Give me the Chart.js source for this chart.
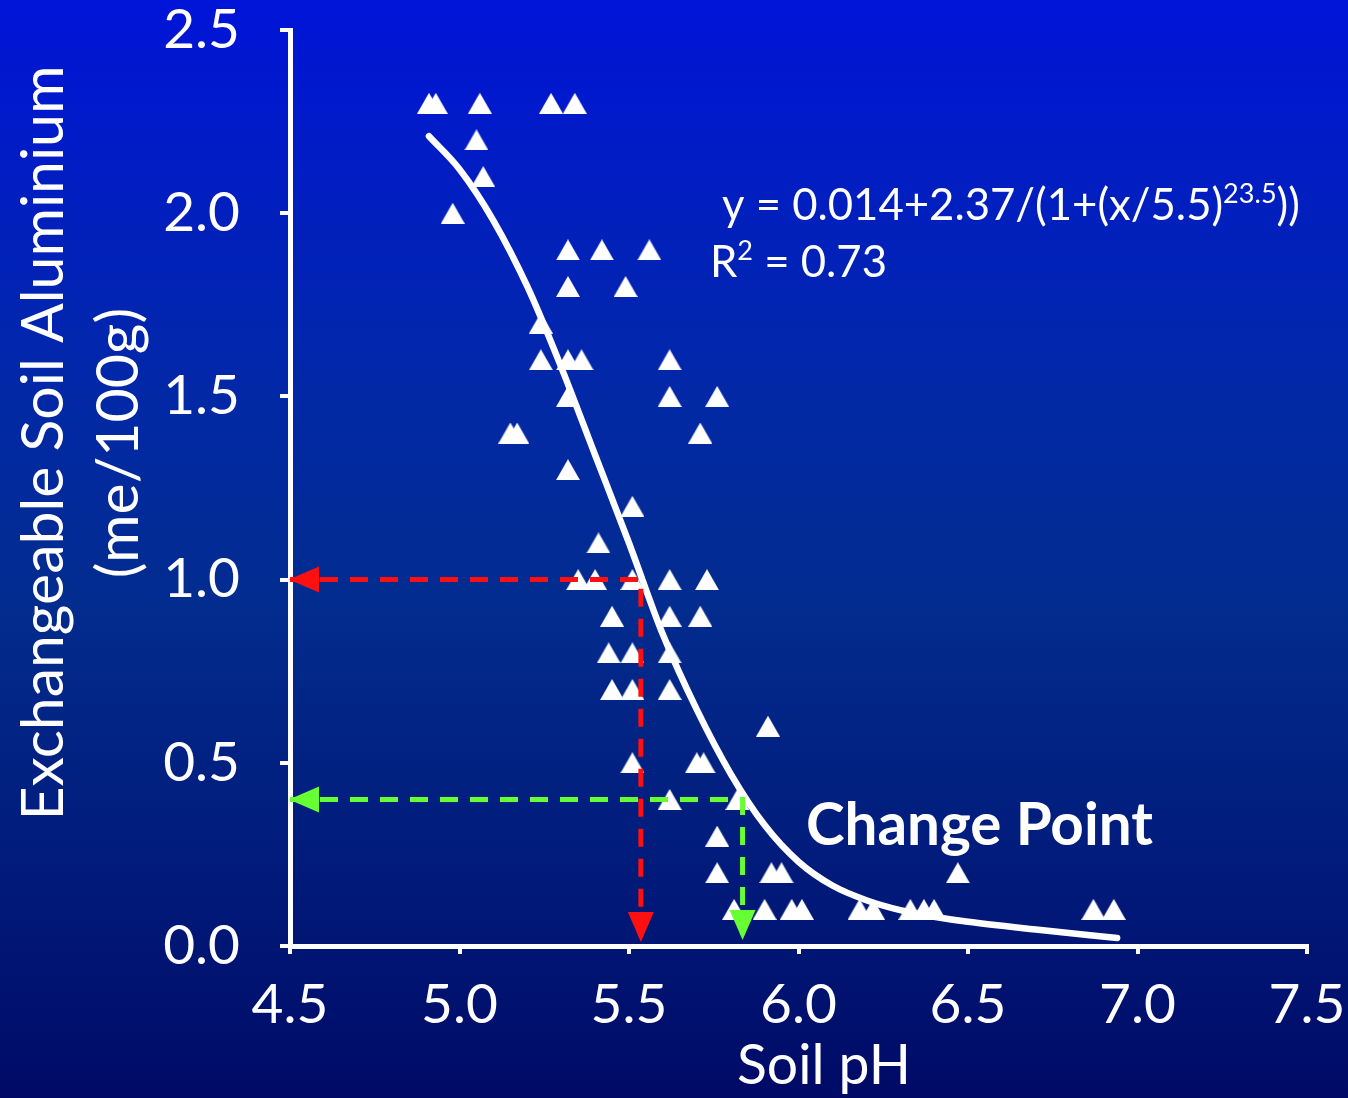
<!DOCTYPE html>
<html><head><meta charset="utf-8">
<script src="https://cdn.jsdelivr.net/npm/chart.js@4.4.1/dist/chart.umd.min.js"></script>
<style>html,body{margin:0;padding:0;background:#000a68;overflow:hidden}#wrap{width:1348px;height:1098px;position:relative}canvas{display:block}</style>
</head><body><div id="wrap"><canvas id="c" width="1348" height="1098"></canvas></div>
<script>
// ---- data ----
const soilPH = [
  4.91,4.93,5.06,5.27,5.34,
  5.05,
  5.07,
  4.98,
  5.32,5.42,5.56,
  5.32,5.49,
  5.24,
  5.24,5.32,5.36,5.62,
  5.32,5.62,5.76,
  5.15,5.17,5.71,
  5.32,
  5.51,
  5.41,
  5.35,5.40,5.51,5.62,5.73,
  5.45,5.62,5.71,
  5.44,5.51,5.62,
  5.45,5.51,5.62,
  5.91,
  5.51,5.70,5.72,
  5.62,5.82,
  5.76,
  5.76,5.92,5.95,6.47,
  5.81,5.90,5.98,6.01,6.18,6.22,6.33,6.37,6.40,6.87,6.93
];
const exchAl = [
  2.3,2.3,2.3,2.3,2.3,
  2.2,
  2.1,
  2.0,
  1.9,1.9,1.9,
  1.8,1.8,
  1.7,
  1.6,1.6,1.6,1.6,
  1.5,1.5,1.5,
  1.4,1.4,1.4,
  1.3,
  1.2,
  1.1,
  1.0,1.0,1.0,1.0,1.0,
  0.9,0.9,0.9,
  0.8,0.8,0.8,
  0.7,0.7,0.7,
  0.6,
  0.5,0.5,0.5,
  0.4,0.4,
  0.3,
  0.2,0.2,0.2,0.2,
  0.1,0.1,0.1,0.1,0.1,0.1,0.1,0.1,0.1,0.1,0.1
];
// fitted curve as drawn
const curvePH = [4.91,5.00,5.10,5.20,5.30,5.40,5.50,5.60,5.70,5.80,5.90,6.00,6.10,6.20,6.30,6.40,6.50,6.70,6.94];
const curveAl = [2.21,2.12,1.98,1.80,1.58,1.34,1.10,0.85,0.645,0.47,0.33,0.23,0.165,0.125,0.098,0.080,0.066,0.045,0.022];
// axis ticks
const xTickValues = [4.5,5.0,5.5,6.0,6.5,7.0,7.5];
const yTickValues = [0.0,0.5,1.0,1.5,2.0,2.5];
// change point guides
const redGuidePH = 5.535, redGuideAl = 1.0;
const greenGuidePH = 5.835, greenGuideAl = 0.4;
// texts
const xTitle = 'Soil pH';
const yTitle = ['Exchangeable Soil Aluminium', '(me/100g)'];
const eqMain = 'y = 0.014+2.37/(1+(x/5.5)';
const eqSup = '23.5';
const eqEnd = '))';
const r2Main = 'R';
const r2Sup = '2';
const r2End = ' = 0.73';
const changeLabel = 'Change Point';

// ---- helpers ----
const FONT = 'Lato';
const mc = document.createElement('canvas').getContext('2d');
function w(text, size, weight){ mc.font = (weight||'normal') + ' ' + size + 'px ' + FONT; return mc.measureText(text).width; }
const yTitleSize = 56 * 755 / w(yTitle[0], 56);
const xTitleSize = 56 * 174 / w(xTitle, 56);
const eqSize = (function(){ const s=44; const t = w(eqMain,s)+w(eqSup,s*0.62)+w(eqEnd,s); return s*578/t; })();
const cpSize = 58 * 347 / w(changeLabel, 58, 'bold');

// triangle marker centred on its bounding box (like the original's markers)
const tri = document.createElement('canvas');
tri.width = 24; tri.height = 21;
(function(){ const t = tri.getContext('2d'); t.fillStyle = '#ffffff'; t.beginPath(); t.moveTo(0,21); t.lineTo(12,0); t.lineTo(24,21); t.closePath(); t.fill(); })();

const points = soilPH.map((x,i)=>({x:x, y:exchAl[i]}));
const curve = curvePH.map((x,i)=>({x:x, y:curveAl[i]}));
const redLine = [{x:xTickValues[0], y:redGuideAl},{x:redGuidePH,y:redGuideAl},{x:redGuidePH,y:yTickValues[0]}];
const greenLine = [{x:xTickValues[0], y:greenGuideAl},{x:greenGuidePH,y:greenGuideAl},{x:greenGuidePH,y:yTickValues[0]}];

const bgPlugin = {
  id:'bg',
  beforeDraw(chart){
    const c = chart.ctx, H = chart.height;
    const g = c.createLinearGradient(0,0,0,H);
    g.addColorStop(0,'#0014d8');
    g.addColorStop(0.35,'#0228a8');
    g.addColorStop(0.55,'#022c8e');
    g.addColorStop(0.8,'#011a7a');
    g.addColorStop(1,'#000a66');
    c.save(); c.fillStyle = g; c.fillRect(0,0,chart.width,H); c.restore();
  }
};

function arrow(c, tx, ty, dir, color){
  const L = 30, hw = 13;
  c.beginPath();
  if(dir==='left'){ c.moveTo(tx,ty); c.lineTo(tx+L,ty-hw); c.lineTo(tx+L,ty+hw); }
  else { c.moveTo(tx,ty); c.lineTo(tx-hw,ty-L); c.lineTo(tx+hw,ty-L); }
  c.closePath(); c.fillStyle = color; c.fill();
}

const annoPlugin = {
  id:'anno',
  afterDatasetsDraw(chart){
    const c = chart.ctx, xs = chart.scales.x, ys = chart.scales.y;
    c.save();
    // arrowheads
    const x0 = xs.getPixelForValue(xTickValues[0]) , y0 = ys.getPixelForValue(yTickValues[0]);
    arrow(c, x0-1, ys.getPixelForValue(redGuideAl), 'left', '#ff1010');
    arrow(c, xs.getPixelForValue(redGuidePH), y0-4, 'down', '#ff1010');
    arrow(c, x0-1, ys.getPixelForValue(greenGuideAl), 'left', '#66ff33');
    arrow(c, xs.getPixelForValue(greenGuidePH), y0-6, 'down', '#66ff33');
    // equation
    c.fillStyle = '#ffffff'; c.textBaseline = 'alphabetic'; c.textAlign = 'left';
    let px = 722, py = 220;
    c.font = eqSize + 'px ' + FONT; c.fillText(eqMain, px, py); px += c.measureText(eqMain).width;
    c.font = (eqSize*0.62) + 'px ' + FONT; c.fillText(eqSup, px, py-17); px += c.measureText(eqSup).width;
    c.font = eqSize + 'px ' + FONT; c.fillText(eqEnd, px, py);
    px = 710; py = 277;
    c.fillText(r2Main, px, py); px += c.measureText(r2Main).width;
    c.font = (eqSize*0.62) + 'px ' + FONT; c.fillText(r2Sup, px, py-17); px += c.measureText(r2Sup).width;
    c.font = eqSize + 'px ' + FONT; c.fillText(r2End, px, py);
    // change point
    c.font = 'bold ' + cpSize + 'px ' + FONT; c.fillText(changeLabel, 806, 845);
    c.restore();
  },
  afterDraw(chart){
    const c = chart.ctx;
    c.save();
    c.fillStyle = '#ffffff'; c.textAlign = 'center'; c.textBaseline = 'middle';
    // x axis title
    c.font = xTitleSize + 'px ' + FONT;
    c.fillText(xTitle, 824, 1066);
    // y axis title (two lines, rotated)
    c.translate(0, 443);
    c.rotate(-Math.PI/2);
    c.font = yTitleSize + 'px ' + FONT;
    c.fillText(yTitle[0], 0, 44);
    c.fillText(yTitle[1], 0, 119);
    c.restore();
  }
};

const tickFont = {family:FONT, size:55, lineHeight:1.0};
new Chart(document.getElementById('c'), {
  data:{
    datasets:[
      {type:'line', data:redLine, borderColor:'#ff1010', borderWidth:5, borderDash:[18,12], pointRadius:0, tension:0, order:0},
      {type:'line', data:greenLine, borderColor:'#66ff33', borderWidth:5, borderDash:[18,12], pointRadius:0, tension:0, order:0},
      {type:'line', data:curve, borderColor:'#ffffff', borderWidth:6.5, pointRadius:0, cubicInterpolationMode:'monotone', borderCapStyle:'round', order:1},
      {type:'scatter', data:points, pointStyle:tri, pointRadius:12, pointHoverRadius:12, backgroundColor:'#ffffff', borderColor:'#ffffff', borderWidth:0, order:2}
    ]
  },
  options:{
    responsive:false, devicePixelRatio:1, animation:false,
    events:[],
    layout:{padding:{top:30,right:41,left:0,bottom:0}},
    plugins:{legend:{display:false}, tooltip:{enabled:false}},
    scales:{
      x:{type:'linear', min:4.5, max:7.5,
        afterBuildTicks:s=>{ s.ticks = xTickValues.map(v=>({value:v})); },
        afterFit:s=>{ s.height = 152; s.paddingLeft = 0; s.paddingRight = 0; },
        ticks:{color:'#ffffff', font:tickFont, padding:24, maxRotation:0, autoSkip:false, callback:v=>Number(v).toFixed(1)},
        grid:{display:true, drawOnChartArea:false, drawTicks:true, tickLength:8, color:'#ffffff', lineWidth:4},
        border:{display:true, color:'#ffffff', width:5},
        title:{display:false, text:xTitle}
      },
      y:{type:'linear', min:0, max:2.5,
        afterBuildTicks:s=>{ s.ticks = yTickValues.map(v=>({value:v})); },
        afterFit:s=>{ s.width = 290; s.paddingTop = 0; s.paddingBottom = 0; },
        ticks:{color:'#ffffff', font:tickFont, padding:40, autoSkip:false, callback:v=>Number(v).toFixed(1)},
        grid:{display:true, drawOnChartArea:false, drawTicks:true, tickLength:10, color:'#ffffff', lineWidth:4},
        border:{display:true, color:'#ffffff', width:5},
        title:{display:false, text:yTitle}
      }
    }
  },
  plugins:[bgPlugin, annoPlugin]
});
</script>
</body></html>
